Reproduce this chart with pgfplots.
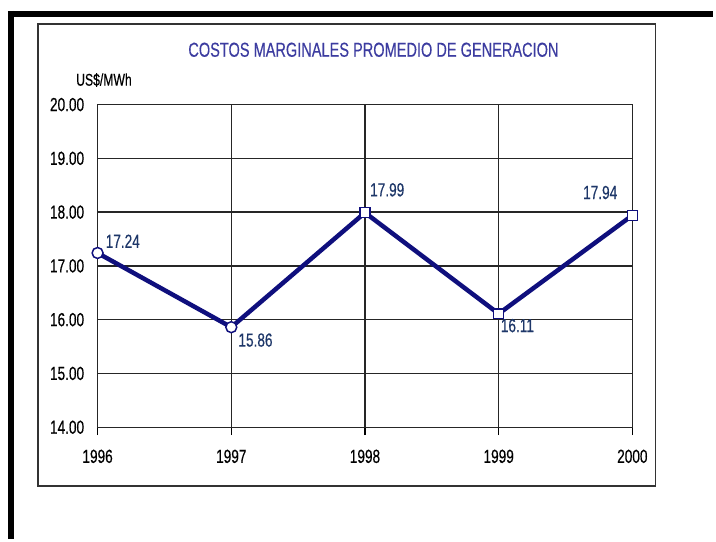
\documentclass[border=0pt]{standalone}
\usepackage{pgfplots}
\pgfplotsset{compat=1.18}
\usepackage{fontspec}
\setmainfont{Liberation Sans}[FakeStretch=0.72, FakeBold=0.4]
\definecolor{linenavy}{RGB}{15,15,125}
\definecolor{labnavy}{RGB}{30,55,105}
\definecolor{titleblue}{RGB}{60,60,160}
\begin{document}
\begin{tikzpicture}[x=1pt,y=1pt]
\path (0,0) rectangle (716,541);
% thick outer border
\draw[line width=6pt] (8,527) -- (716,527);
\draw[line width=6pt] (11,530) -- (11,0);
% inner frame
\draw[line width=1.4pt, black!80] (38,53) rectangle (658,517);
\node[text=titleblue, font=\fontsize{20.3}{22}\selectfont] at (375,491) {COSTOS MARGINALES PROMEDIO DE GENERACION};
\node[font=\fontsize{17}{19}\selectfont, anchor=base west] at (73,455) {US\$/MWh};
\begin{axis}[
  at={(98pt,112pt)}, anchor=south west,
  scale only axis, width=537pt, height=324pt,
  xmin=1996, xmax=2000, ymin=14, ymax=20,
  xtick={1996,1997,1998,1999,2000},
  xticklabels={1996,1997,1998,1999,2000},
  ytick={14,15,16,17,18,19,20},
  /pgf/number format/fixed, /pgf/number format/fixed zerofill,
  /pgf/number format/precision=2,
  /pgf/number format/assume math mode=true,
  ticklabel style={font=\fontsize{19}{21}\selectfont},
  xticklabel style={yshift=-11pt},
  yticklabel style={xshift=-2pt},
  xtick style={black, line width=1.3pt},
  xtick pos=bottom, tick align=outside, major tick length=8pt,
  ytick style={draw=none},
  grid=major, major grid style={black!85, line width=1.3pt},
  axis line style={black!85, line width=1.3pt},
  clip=false,
  lab/.style n args={3}{draw=none, no marks, nodes near coords, point meta=explicit symbolic,
    every node near coord/.append style={anchor=#1, xshift=#2, yshift=#3, text=labnavy, font=\fontsize{19}{21}\selectfont, inner sep=0pt}},
]
\addplot[linenavy, line width=4.5pt, no marks] coordinates {
  (1996,17.24) (1997,15.86) (1998,17.99) (1999,16.11) (2000,17.94)};
\addplot[only marks, mark=*, mark size=5.5pt, mark options={fill=white, draw=linenavy, line width=1.5pt}] coordinates {
  (1996,17.24) (1997,15.86)};
\addplot[only marks, mark=square*, mark size=5pt, mark options={fill=white, draw=linenavy, line width=1.5pt}] coordinates {
  (1998,17.99) (1999,16.11) (2000,17.94)};
\addplot[lab={south west}{8pt}{5pt}] coordinates {(1996,17.24) [17.24]};
\addplot[lab={south west}{5pt}{16pt}] coordinates {(1998,17.99) [17.99]};
\addplot[lab={south east}{-15pt}{16pt}] coordinates {(2000,17.94) [17.94]};
\addplot[lab={north west}{7pt}{-6pt}] coordinates {(1997,15.86) [15.86]};
\addplot[lab={north west}{2pt}{-5pt}] coordinates {(1999,16.11) [16.11]};
\end{axis}
\end{tikzpicture}
\end{document}
